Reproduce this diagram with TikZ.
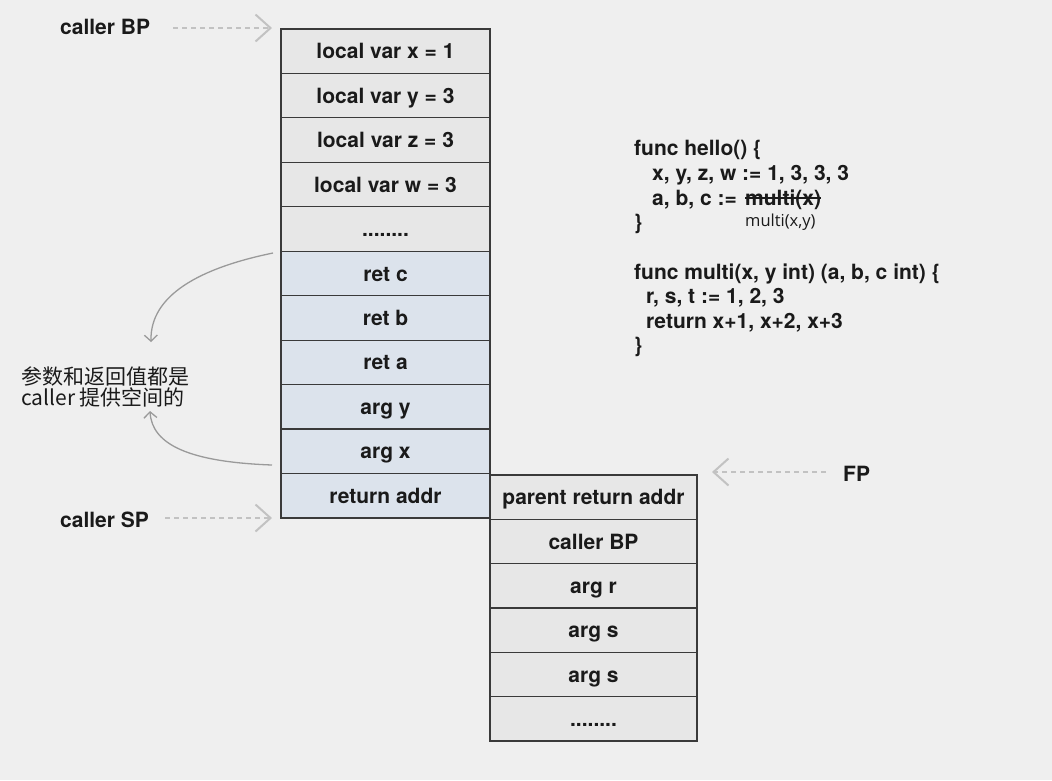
\documentclass[tikz,border=0pt]{standalone}
\usepackage{fontspec}
\setmainfont{TeX Gyre Heros}
\newfontfamily\cjkfont{Noto Sans CJK SC}
\newfontfamily\notefont{Open Sans}
\usetikzlibrary{arrows.meta,calc}
\definecolor{bgc}{HTML}{EFEFEF}
\definecolor{cellgray}{HTML}{E7E7E7}
\definecolor{cellblue}{HTML}{DCE3EC}
\definecolor{cellline}{HTML}{3A3A3A}
\definecolor{ptrgray}{HTML}{C2C2C2}
\definecolor{curvegray}{HTML}{9A9A9A}
\definecolor{txt}{HTML}{1A1A1A}
\begin{document}
\begin{tikzpicture}[x=1pt,y=-1pt,
  cell/.style={draw=cellline, line width=1.2pt, minimum width=209pt, minimum height=44.45pt,
    inner sep=0pt, text=txt, font=\fontsize{21}{24}\selectfont\bfseries,
    text height=15pt, text depth=0pt, fill=cellgray},
  rcell/.style={cell, minimum width=207pt, minimum height=44.33pt},
  bluecell/.style={fill=cellblue},
  lbl/.style={inner sep=0pt, text=txt, font=\fontsize{21}{24}\selectfont\bfseries, anchor=base west},
  code/.style={inner sep=0pt, text=txt, font=\fontsize{21}{24}\selectfont\bfseries, anchor=base west},
  ptr/.style={draw=ptrgray, line width=1.8pt, dash pattern=on 5pt off 4pt,
    -{Straight Barb[length=15pt,width=27pt,line width=2pt]}},
  curv/.style={draw=curvegray, line width=1.3pt, -{Straight Barb[length=6pt,width=13pt]}}
]
\fill[bgc] (0,0) rectangle (1052,780);
\useasboundingbox (0,0) rectangle (1052,780);

% left stack
\node[cell] (r1) at (385.5,51.2) {local var x = 1};
\node[cell] (r2) at (385.5,95.7) {local var y = 3};
\node[cell] (r3) at (385.5,140.1) {local var z = 3};
\node[cell] (r4) at (385.5,184.6) {local var w = 3};
\node[cell] (r5) at (385.5,229.0) {........};
\node[cell,bluecell] (r6) at (385.5,273.5) {ret c};
\node[cell,bluecell] (r7) at (385.5,317.9) {ret b};
\node[cell,bluecell] (r8) at (385.5,362.4) {ret a};
\node[cell,bluecell] (r9) at (385.5,406.8) {arg y};
\node[cell,bluecell] (r10) at (385.5,451.3) {arg x};
\node[cell,bluecell] (r11) at (385.5,495.7) {return addr};

% right stack
\node[rcell] (p1) at (593.5,497.2) {parent return addr};
\node[rcell] (p2) at (593.5,541.5) {caller BP};
\node[rcell] (p3) at (593.5,585.8) {arg r};
\node[rcell] (p4) at (593.5,630.2) {arg s};
\node[rcell] (p5) at (593.5,674.5) {arg s};
\node[rcell] (p6) at (593.5,718.8) {........};

% pointer labels
\node[lbl] (cbp) at (60,34) {caller BP};
\node[lbl] (csp) at (60,527) {caller SP};
\node[lbl] (fp) at (843,481) {FP};
\coordinate (cbptip) at (272,28);
\coordinate (csptip) at (272,518);
\coordinate (fptip) at (712,472);
\coordinate (cbpstart) at (173,28);
\coordinate (cspstart) at (165,518);
\coordinate (fpstart) at (826,472);
\draw[ptr] (cbpstart) -- (cbptip);
\draw[ptr] (cspstart) -- (csptip);
\draw[ptr] (fpstart) -- (fptip);

% chinese label
\node[inner sep=0pt, anchor=base west, text=txt, font=\cjkfont\fontsize{21}{21}\selectfont] (cn1) at (21,384) {参数和返回值都是};
\node[inner sep=0pt, anchor=base west, text=txt, font=\cjkfont\fontsize{21}{21}\selectfont] (cn2) at (21,405) {caller 提供空间的};

% curved arrows
\coordinate (c1s) at (273,253);
\coordinate (c1e) at (151,342);
\coordinate (c2s) at (272,465);
\coordinate (c2e) at (150,411);
\draw[curv] (c1s) .. controls (200,268) and (150,295) .. (c1e);
\draw[curv] (c2s) .. controls (190,462) and (152,445) .. (c2e);

% code
\node[code] (k1) at (634,155) {func hello() \{};
\node[code] (k2) at (652,180) {x, y, z, w := 1, 3, 3, 3};
\node[code] (k3) at (652,205) {a, b, c :=};
\node[code] (k3b) at (745,205) {multi(x)};
\draw[txt, line width=2pt] ([yshift=7pt]k3b.base west) -- ([yshift=7pt]k3b.base east);
\node[code] (k4) at (634,229) {\}};
\node[inner sep=0pt, anchor=base west, text=txt, font=\notefont\fontsize{16.5}{18}\selectfont] (note) at (745,226) {multi(x,y)};
\node[code] (k5) at (634,279) {func multi(x, y int) (a, b, c int) \{};
\node[code] (k6) at (646,303) {r, s, t := 1, 2, 3};
\node[code] (k7) at (646,328) {return x+1, x+2, x+3};
\node[code] (k8) at (634,352) {\}};
\end{tikzpicture}
\end{document}
